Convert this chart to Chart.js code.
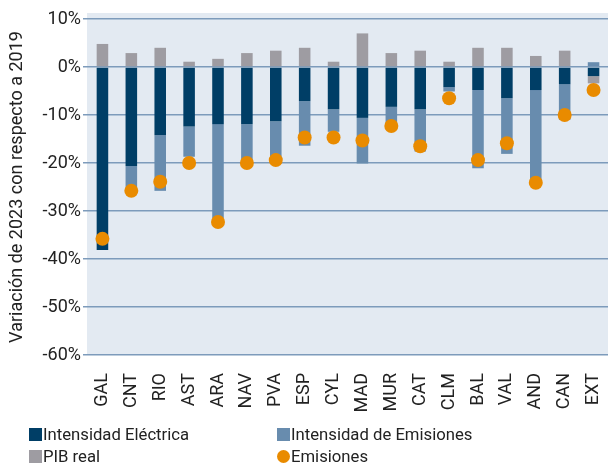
<!DOCTYPE html>
<html>
<head>
<meta charset="utf-8">
<script src="https://cdn.jsdelivr.net/npm/chart.js@4"></script>
<style>
  body { margin: 0; background: #fff; font-family: Roboto, sans-serif; }
  #wrap { position: relative; width: 608px; height: 466px; }
  #leyenda { position: absolute; left: 0; top: 0; width: 608px; height: 466px; pointer-events: none; }
  .item { position: absolute; font-size: 16.7px; color: #222; line-height: 20px; white-space: nowrap; }
  .item span.caja { display: inline-block; width: 13px; height: 13px; vertical-align: -1px; margin-right: 1px; }
  .item span.punto { display: inline-block; width: 13px; height: 13px; border-radius: 50%; vertical-align: -1px; margin-right: 1px; }
</style>
</head>
<body>
<div id="wrap">
  <canvas id="grafico-variacion" width="608" height="466"></canvas>
  <div id="leyenda"></div>
</div>
<script>
const regiones = ['GAL','CNT','RIO','AST','ARA','NAV','PVA','ESP','CYL','MAD','MUR','CAT','CLM','BAL','VAL','AND','CAN','EXT'];
const intensidadElectrica = [-38.1,-20.6,-14.2,-12.4,-11.9,-11.9,-11.3,-7.1,-8.8,-10.6,-8.3,-8.8,-4.2,-4.8,-6.5,-4.8,-3.6,-1.9];
const intensidadEmisiones = [0,-4.6,-11.6,-6.3,-19.6,-7.5,-8.8,-9.3,-4.7,-9.5,-3.4,-8.8,-0.9,-16.3,-11.6,-19.1,-7.4,1.0];
const pibReal = [4.8,2.9,4.0,1.1,1.7,2.9,3.4,4.0,1.1,7.0,2.9,3.4,1.1,4.0,4.0,2.3,3.4,-1.5];
const emisiones = [-35.8,-25.8,-23.9,-20.0,-32.3,-20.0,-19.4,-14.7,-14.7,-15.3,-12.3,-16.5,-6.5,-19.4,-15.9,-24.1,-10.0,-4.8];
const ticksY = [10,0,-10,-20,-30,-40,-50,-60];

const colores = {
    electrica: '#003e66',
    emisionesInt: '#688cae',
    pib: '#9e9ca2',
    emisiones: '#e98b00'
};

// fondo azul claro del área del gráfico
const fondoArea = {
    id: 'fondoArea',
    beforeDraw(chart) {
        const a = chart.chartArea;
        const ctx = chart.ctx;
        ctx.save();
        ctx.fillStyle = '#e3eaf2';
        ctx.fillRect(a.left - 1, a.top - 6, a.right - a.left + 1, a.bottom - a.top + 6);
        ctx.restore();
    }
};

const ctx = document.getElementById('grafico-variacion').getContext('2d');
new Chart(ctx, {
    type: 'bar',
    data: {
        labels: regiones,
        datasets: [
            { label: 'Intensidad Eléctrica', data: intensidadElectrica, backgroundColor: colores.electrica, stack: 'a', order: 1 },
            { label: 'Intensidad de Emisiones', data: intensidadEmisiones, backgroundColor: colores.emisionesInt, stack: 'a', order: 1 },
            { label: 'PIB real', data: pibReal, backgroundColor: colores.pib, stack: 'a', order: 1 },
            { label: 'Emisiones', type: 'line', data: emisiones, stack: 'b', order: 0, showLine: false, clip: false,
              pointRadius: 7, pointHoverRadius: 7, pointBackgroundColor: colores.emisiones, pointBorderWidth: 0,
              borderColor: colores.emisiones, backgroundColor: colores.emisiones }
        ]
    },
    options: {
        responsive: false,
        animation: false,
        layout: { autoPadding: false, padding: { top: 19, right: 0, bottom: 51, left: 0 } },
        datasets: { bar: { barPercentage: 0.4, categoryPercentage: 1 } },
        plugins: { legend: { display: false }, tooltip: { enabled: false } },
        scales: {
            x: {
                stacked: true,
                grid: { display: false },
                border: { display: false },
                ticks: { color: '#222', font: { family: 'Roboto', size: 18 }, minRotation: 90, maxRotation: 90, padding: 10 },
                afterFit(scale) { scale.height = 60; scale.paddingLeft = 0; scale.paddingRight = 0; }
            },
            y: {
                stacked: true,
                min: -60, max: 10,
                afterBuildTicks(scale) { scale.ticks = ticksY.map(v => ({ value: v })); },
                ticks: { color: '#222', font: { family: 'Roboto', size: 18 }, padding: 2, callback: v => v + '%' },
                grid: { color: '#7d9bbb', lineWidth: 1.5, tickLength: 5, tickColor: '#7d9bbb' },
                border: { display: false },
                title: { display: true, text: 'Variación de 2023 con respecto a 2019', color: '#222',
                         font: { family: 'Roboto', size: 18 }, padding: { top: 7, bottom: 0 } },
                afterFit(scale) { scale.width = 88; scale.paddingTop = 0; scale.paddingBottom = 0; }
            }
        }
    },
    plugins: [fondoArea]
});

// leyenda en dos columnas
const itemsLeyenda = [
    { texto: 'Intensidad Eléctrica', color: colores.electrica, x: 29, y: 425, punto: false },
    { texto: 'Intensidad de Emisiones', color: colores.emisionesInt, x: 277, y: 425, punto: false },
    { texto: 'PIB real', color: colores.pib, x: 29, y: 447, punto: false },
    { texto: 'Emisiones', color: colores.emisiones, x: 277, y: 447, punto: true }
];
const leyenda = document.getElementById('leyenda');
itemsLeyenda.forEach(it => {
    const d = document.createElement('div');
    d.className = 'item';
    d.style.left = it.x + 'px';
    d.style.top = it.y + 'px';
    d.innerHTML = '<span class="' + (it.punto ? 'punto' : 'caja') + '" style="background:' + it.color + '"></span>' + it.texto;
    leyenda.appendChild(d);
});
</script>
</body>
</html>
